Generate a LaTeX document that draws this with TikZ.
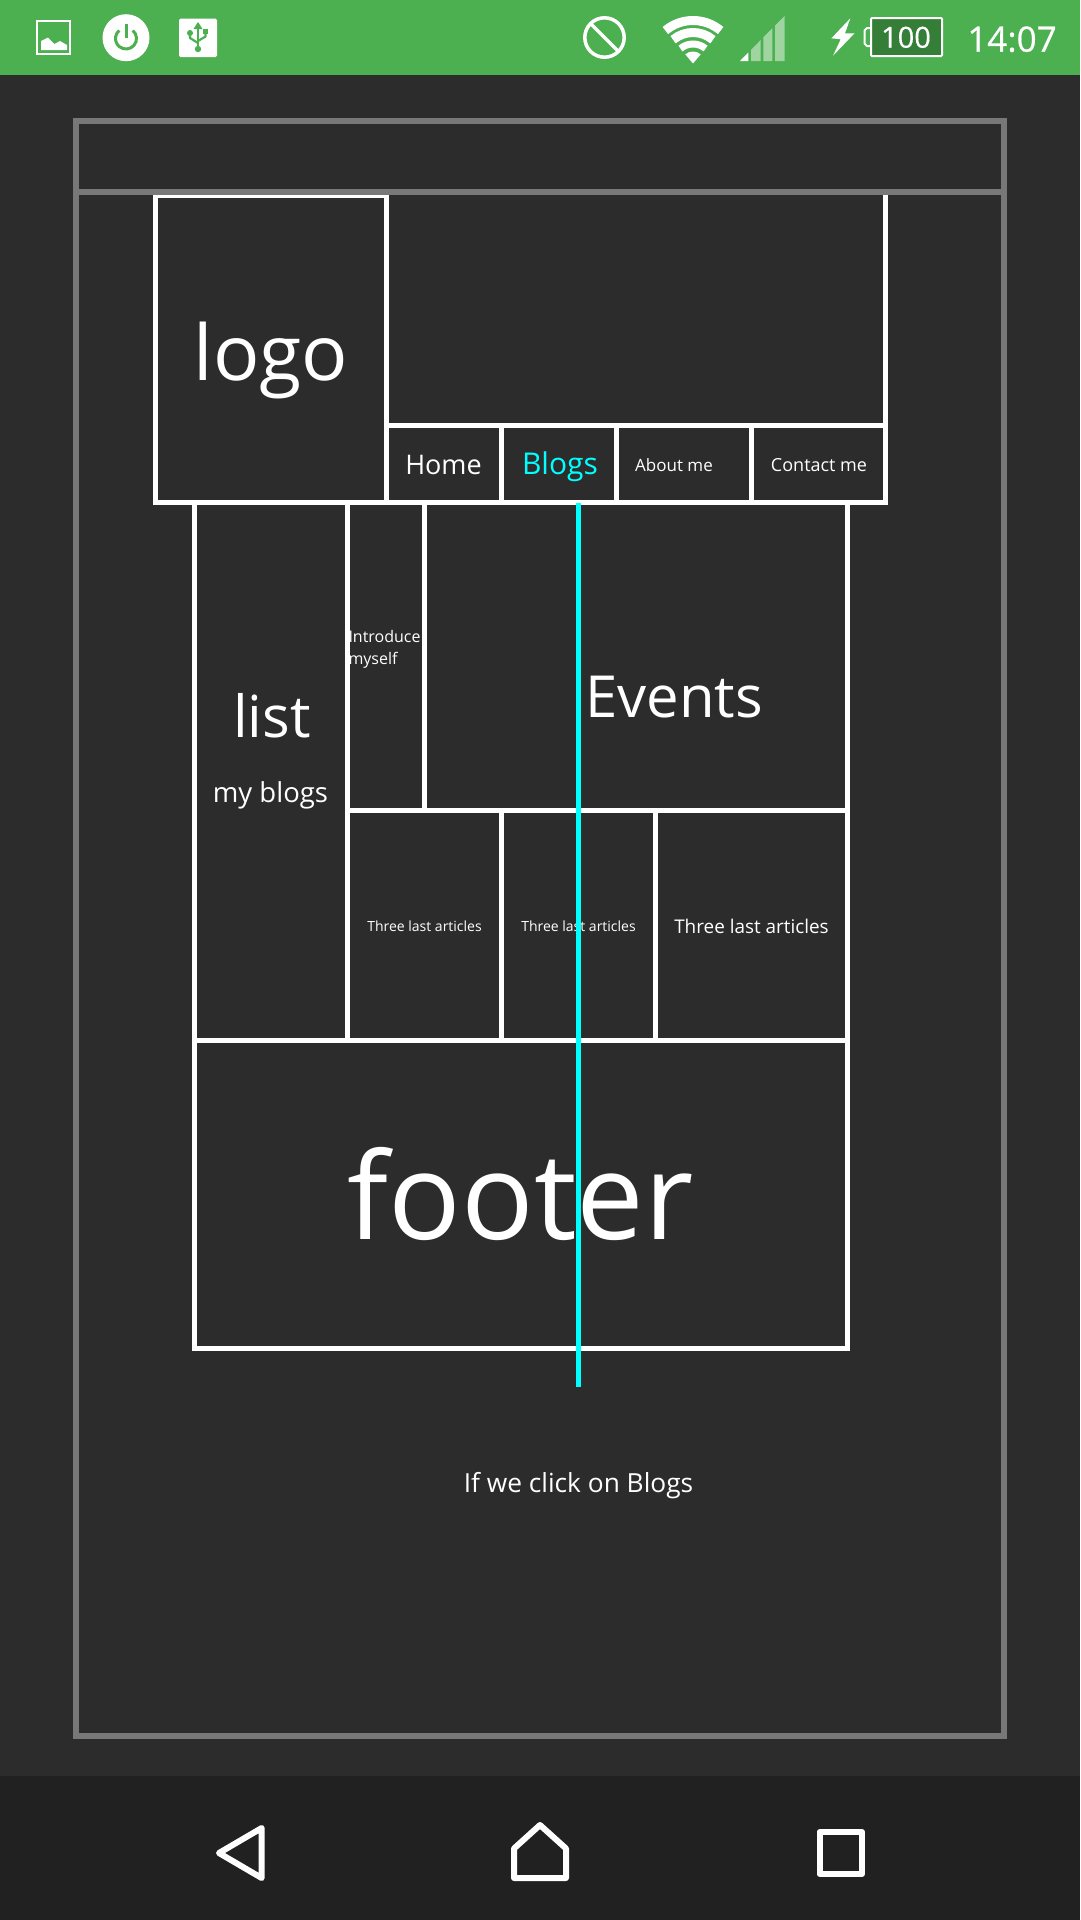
\documentclass[tikz,border=0pt]{standalone}
\usepackage{fontspec}
\setmainfont{Open Sans}
\newfontfamily\statusfont[FakeBold=0.5]{Open Sans}
\definecolor{bgc}{HTML}{2C2C2C}
\definecolor{navc}{HTML}{212121}
\definecolor{barc}{HTML}{4CAF50}
\definecolor{batc}{HTML}{357E38}
\definecolor{sigc}{HTML}{A0D5A2}
\definecolor{frm}{HTML}{787878}
\definecolor{cy}{HTML}{00FFFF}
\tikzset{
  wire/.style={draw=white,line width=5pt,line join=miter},
  gframe/.style={draw=frm,line width=6pt},
  lbl/.style={text=white,anchor=base,inner sep=0pt,outer sep=0pt},
  navicon/.style={draw=white,line width=6pt,line join=round},
}
\newcommand{\fs}[1]{\fontsize{#1pt}{#1pt}\selectfont}
\begin{document}
\begin{tikzpicture}[x=1pt,y=-1pt]
\useasboundingbox (0,0) rectangle (1080,1920);
\fill[bgc] (0,0) rectangle (1080,1920);
\fill[barc] (0,0) rectangle (1080,75);
\fill[navc] (0,1776) rectangle (1080,1920);

% status bar, left
\draw[white,line width=2pt] (37,21) rectangle (70,54);
\fill[white] (41,50) -- (41,41) -- (48,37.5) -- (54.5,44) -- (60,41) -- (67,45) -- (67,50) -- cycle;
\fill[white] (126,37.7) circle (23.5);
\draw[barc,line width=3pt] (126,38.5) ++(-50:10.5) arc[start angle=-50,end angle=230,radius=10.5];
\draw[barc,line width=3pt] (126,24) -- (126,38);
\fill[white,rounded corners=1.5pt] (179,18.7) rectangle (217,57);
\draw[barc,line width=2.4pt] (198,28) -- (198,49);
\fill[barc] (198,22) -- (202.5,29) -- (193.5,29) -- cycle;
\fill[barc] (198,49) circle (3.2);
\draw[barc,line width=2.2pt] (198,43) -- (190,38) -- (190,33);
\fill[barc] (190,33) circle (3);
\draw[barc,line width=2.2pt] (198,41) -- (205.5,36.5) -- (205.5,32);
\fill[barc] (202.8,29) rectangle (208.2,34);

% status bar, right
\draw[white,line width=3.5pt] (604.5,37.5) circle (19.7);
\draw[white,line width=3.5pt] (591,24) -- (618,51);
\coordinate (apex) at (693,63.5);
\foreach \r/\w in {43/9,31/9,19.5/7}{
  \draw[white,line width=\w pt] (apex) ++(-130:\r) arc[start angle=-130,end angle=-50,radius=\r];
}
\fill[white] (apex) -- ++(-130:12) arc[start angle=-130,end angle=-50,radius=12] -- cycle;
\fill[white] (740,61) -- (748.3,52.6) -- (748.3,61) -- cycle;
\fill[sigc] (751,61) -- (751,49.9) -- (760.7,40) -- (760.7,61) -- cycle;
\fill[sigc] (763.4,61) -- (763.4,37.3) -- (772.4,28.2) -- (772.4,61) -- cycle;
\fill[sigc] (775,61) -- (775,25.6) -- (784.5,16) -- (784.5,61) -- cycle;
\fill[white] (850.3,18.3) -- (831.4,38.3) -- (840.7,39.3) -- (833,55.7) -- (854.5,33.3) -- (845,33.3) -- cycle;
\filldraw[draw=white,fill=batc,line width=2pt,rounded corners=1pt] (871,18) rectangle (942,56);
\draw[white,line width=2pt,line join=round] (871,28) -- (867,28) -- (864.5,30.5) -- (864.5,43.5) -- (867,46) -- (871,46);
\node[lbl] (batt) at (906,47.7) {\statusfont\fs{29}100};
\node[lbl] (clock) at (1012,51.7) {\statusfont\fs{35}14:07};

% header boxes
\draw[wire] (155.5,195.5) rectangle (386.5,502.5);
\draw[wire] (386.5,425.5) -- (885.5,425.5);
\draw[wire] (885.5,195) -- (885.5,505);
\draw[wire] (386.5,502.5) -- (885.5,502.5);
\draw[wire] (501.5,425.5) -- (501.5,502.5);
\draw[wire] (616.5,425.5) -- (616.5,502.5);
\draw[wire] (751.5,425.5) -- (751.5,502.5);
% content
\draw[wire] (194,502.5) rectangle (847.5,1348.5);
\draw[wire] (194,1040.5) -- (847.5,1040.5);
\draw[wire] (347.5,502.5) -- (347.5,1040.5);
\draw[wire] (347.5,810.5) -- (847.5,810.5);
\draw[wire] (424.5,502.5) -- (424.5,810.5);
\draw[wire] (501.5,810.5) -- (501.5,1040.5);
\draw[wire] (655.5,810.5) -- (655.5,1040.5);

% outer grey frame
\draw[gframe] (76,121) rectangle (1004,1736);
\draw[gframe] (76,192) -- (1004,192);

% labels
\node[lbl] (logo) at (271,380) {\fs{77}logo};
\node[lbl] (home) at (443.5,474) {\fs{27}Home};
\node[lbl,text=cy] (blogs) at (560,474) {\fs{30}Blogs};
\node[lbl] (about) at (674,471) {\fs{17}About me};
\node[lbl] (contact) at (819,471) {\fs{18}Contact me};
\node[lbl,anchor=base west] (intro1) at (348.5,642) {\fs{16}Introduce};
\node[lbl,anchor=base west] (intro2) at (348.5,664) {\fs{16}myself};
\node[lbl] (events) at (674,717) {\fs{58}Events};
\node[lbl] (list) at (272,737) {\fs{58}list};
\node[lbl] (myblogs) at (270.5,802) {\fs{27.5}my blogs};
\node[lbl] (a1) at (424.5,931) {\fs{14}Three last articles};
\node[lbl] (a2) at (578.5,931) {\fs{14}Three last articles};
\node[lbl] (a3) at (751.5,933.5) {\fs{18.9}Three last articles};
\node[lbl] (footer) at (520.5,1239) {\fs{120.5}footer};
\node[lbl] (note) at (578.5,1492.5) {\fs{26.3}If we click on Blogs};

% cyan line
\coordinate (cyT) at (578.5,503);
\coordinate (cyB) at (578.5,1387);
\draw[cy,line width=5pt] (cyT) -- (cyB);

% navigation bar
\draw[navicon] (219,1853) -- (261.7,1828) -- (261.7,1878) -- cycle;
\draw[navicon] (514,1848.5) -- (540,1825) -- (566,1848.5) -- (566,1878) -- (514,1878) -- cycle;
\draw[navicon] (819.5,1832) rectangle (862,1874);
\end{tikzpicture}
\end{document}
